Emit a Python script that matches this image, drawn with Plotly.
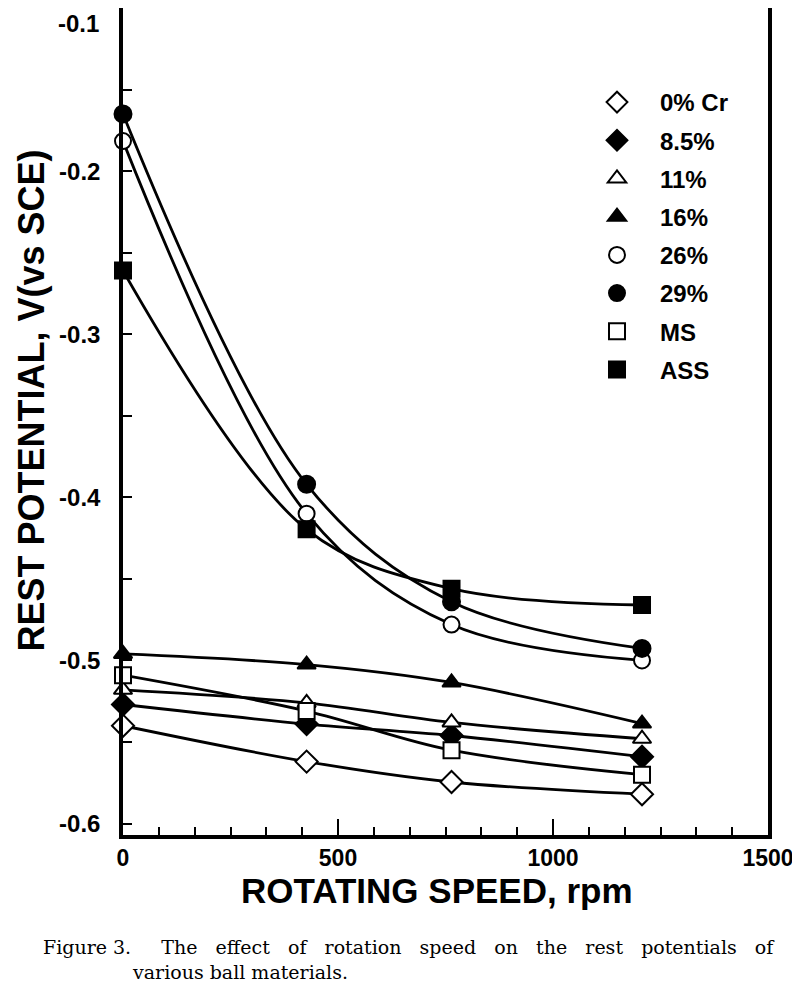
import plotly.graph_objects as go

# ---- data ----
speeds = [0, 427, 764, 1207]          # rotating speed, rpm
names = ["0% Cr", "8.5%", "11%", "16%", "26%", "29%", "MS", "ASS"]
v_0cr = [-0.540, -0.562, -0.5745, -0.582]
v_8p5 = [-0.527, -0.539, -0.546, -0.559]
v_11 = [-0.518, -0.526, -0.538, -0.548]
v_16 = [-0.496, -0.5025, -0.5135, -0.5387]
v_26 = [-0.1816, -0.410, -0.478, -0.500]
v_29 = [-0.165, -0.392, -0.464, -0.4926]
v_ms = [-0.509, -0.531, -0.555, -0.570]
v_ass = [-0.261, -0.4196, -0.456, -0.466]
series = [v_0cr, v_8p5, v_11, v_16, v_26, v_29, v_ms, v_ass]

x_ticks = [0, 500, 1000, 1500]
y_ticks = [-0.6, -0.5, -0.4, -0.3, -0.2, -0.1]
x_title = "ROTATING SPEED, rpm"
y_title = "REST POTENTIAL, V(vs SCE)"
caption_lead = "Figure 3."
caption_line1 = "The effect of rotation speed on the rest potentials of"
caption_line2 = "various ball materials."

# ---- styles ----
symbols = ["diamond", "diamond", "triangle-up", "triangle-up",
           "circle", "circle", "square", "square"]
filled = [False, True, False, True, False, True, False, True]
msize = [17, 17, 16, 16, 16, 17, 16, 16]

FONT = "Liberation Sans"
# the page body adds an 8px offset; the figure is sized so it fills the 800x1008 window
OFF = 8
W, H = 792, 992
ML, MR, MT, MB = 115, 32, 0, 165
PW, PH = W - ML - MR, H - MT - MB


def px_x(p):
    return (p - OFF - ML) / PW


def px_y(p):
    return (H - MB - (p - OFF)) / PH


fig = go.Figure()

# fitted curves (smooth lines through the measured points)
for name, vals in zip(names, series):
    fig.add_trace(go.Scatter(
        x=speeds, y=vals, mode="lines",
        line=dict(shape="spline", smoothing=1.0, color="black", width=2.8),
        showlegend=False, hoverinfo="skip", cliponaxis=False,
    ))

# markers
for i, (name, vals) in enumerate(zip(names, series)):
    fig.add_trace(go.Scatter(
        x=speeds, y=vals, mode="markers", name=name, legendgroup=name,
        marker=dict(symbol=symbols[i], size=msize[i],
                    color="black" if filled[i] else "white",
                    line=dict(color="black", width=2)),
        cliponaxis=False,
    ))

# y tick labels: the top one (-0.1) is drawn slightly below its tick, as in the original
y_ticktext = [f"{v:.1f}" for v in y_ticks]
y_ticktext_axis = y_ticktext[:-1] + [""]

fig.update_layout(
    width=W, height=H,
    margin=dict(l=ML, r=MR, t=MT, b=MB),
    paper_bgcolor="white", plot_bgcolor="white",
    font=dict(family=FONT, color="black"),
    legend=dict(
        x=px_x(574), y=px_y(80), xanchor="left", yanchor="top",
        font=dict(family=FONT, size=24, weight="bold"),
        itemwidth=76, tracegroupgap=4, bgcolor="rgba(0,0,0,0)",
    ),
    xaxis=dict(
        range=[0, 1500], tickvals=x_ticks, ticks="inside", ticklen=16,
        tickwidth=2, tickcolor="black", automargin=False,
        minor=dict(dtick=500 / 6, tick0=0, ticks="inside", ticklen=8,
                   tickwidth=2, tickcolor="black"),
        showline=True, linewidth=3.5, linecolor="black", mirror=True,
        showgrid=False, zeroline=False,
        tickfont=dict(family=FONT, size=23, weight="bold"),
    ),
    yaxis=dict(
        range=[-0.607, -0.1], tickvals=y_ticks, ticktext=y_ticktext_axis,
        ticks="inside", ticklen=9, tickwidth=2, tickcolor="black",
        automargin=False,
        minor=dict(dtick=0.05, tick0=-0.6, ticks="inside", ticklen=9,
                   tickwidth=2, tickcolor="black"),
        showline=True, linewidth=3.5, linecolor="black", mirror=True,
        showgrid=False, zeroline=False,
        tickfont=dict(family=FONT, size=24, weight="bold"),
        ticklabelstandoff=14,
    ),
)

# top y tick label (kept inside the page, just below its tick)
fig.add_annotation(
    text=y_ticktext[-1], xref="paper", yref="paper",
    x=px_x(101), y=1.0, xanchor="right", yanchor="top",
    showarrow=False, font=dict(family=FONT, size=24, weight="bold"),
)

# axis titles
fig.add_annotation(
    text=x_title, xref="paper", yref="paper",
    x=px_x(437), y=px_y(890), xanchor="center", yanchor="middle",
    showarrow=False, font=dict(family=FONT, size=35, weight="bold"),
)
fig.add_annotation(
    text=y_title, xref="paper", yref="paper", textangle=-90,
    x=px_x(OFF), y=px_y(401), xanchor="left", yanchor="middle",
    showarrow=False, font=dict(family=FONT, size=36, weight="bold"),
)

# caption (justified first line, as in the original)
cap_font = dict(family="DejaVu Serif", size=19, color="black")
gap = "\u00a0\u00a0 "
line1 = caption_lead + "\u00a0\u00a0\u00a0\u00a0 " + gap.join(caption_line1.split(" "))
fig.add_annotation(
    text=line1, xref="paper", yref="paper", x=px_x(41), y=px_y(947),
    xanchor="left", yanchor="middle", showarrow=False, font=cap_font,
)
fig.add_annotation(
    text=caption_line2, xref="paper", yref="paper", x=px_x(130), y=px_y(972),
    xanchor="left", yanchor="middle", showarrow=False, font=cap_font,
)

fig.write_html("out.html")
